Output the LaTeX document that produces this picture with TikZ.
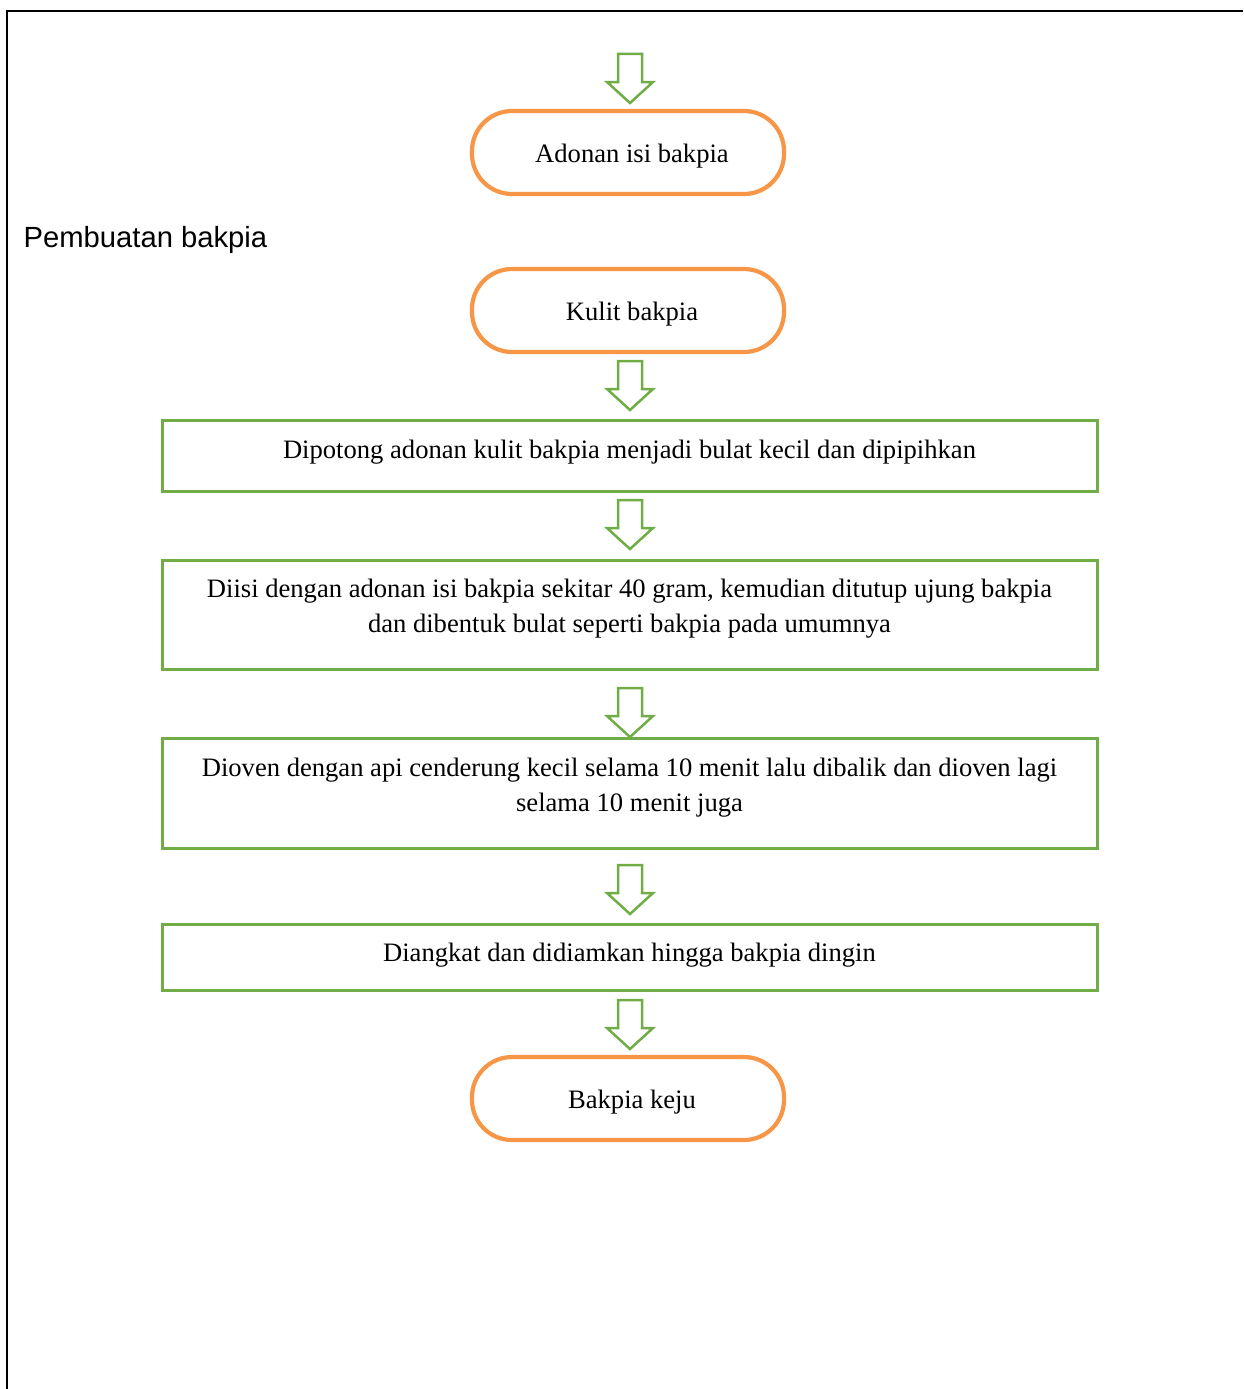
\documentclass[tikz,border=0pt]{standalone}
\usepackage{fontspec}
\setmainfont{Liberation Serif}
\newfontfamily\labelsans{Liberation Sans}
\definecolor{flowora}{HTML}{F79646}
\definecolor{flowgrn}{HTML}{70AD47}
\tikzset{
  stadium/.style={draw=flowora, line width=4.2pt, rounded corners=40pt, minimum width=312pt, minimum height=83pt, fill=white},
  stadtext/.style={font=\fontsize{26.6}{30}\selectfont, inner sep=0pt},
  stepbox/.style={draw=flowgrn, line width=3pt, minimum width=935pt},
  steptext/.style={align=center, font=\fontsize{26.6}{35}\selectfont, inner sep=0pt},
  arrowline/.style={draw=flowgrn, line width=2.5pt, fill=white, line join=miter},
  blockarrow/.pic={\draw[arrowline] (-12,0) -- (12,0) -- (12,28) -- (23,28) -- (0,49) -- (-23,28) -- (-12,28) -- cycle;}
}
\begin{document}
\begin{tikzpicture}[x=1pt,y=-1pt]
\useasboundingbox (0,0) rectangle (1243,1389);
% frame
\draw[line width=2.6pt] (1243,11) -- (7,11) -- (7,1389);
% title
\node[anchor=west, font=\labelsans\fontsize{29.2}{34}\selectfont, inner sep=0pt] (title) at (23.5,240) {Pembuatan bakpia};
% stadiums
\node[stadium] (isi) at (628,152.5) {};
\node[stadium] (kulit) at (628,310.5) {};
\node[stadium] (keju) at (628,1098.5) {};
\node[stadtext] (isit) at (632,156) {Adonan isi bakpia};
\node[stadtext] (kulitt) at (632,314) {Kulit bakpia};
\node[stadtext] (kejut) at (632,1102) {Bakpia keju};
% boxes
\node[stepbox, minimum height=71pt] (b1) at (629.5,455.5) {};
\node[stepbox, minimum height=109pt] (b2) at (629.5,614.5) {};
\node[stepbox, minimum height=110pt] (b3) at (629.5,793) {};
\node[stepbox, minimum height=66pt] (b4) at (629.5,957) {};
\node[steptext] (t1) at (629.5,452) {Dipotong adonan kulit bakpia menjadi bulat kecil dan dipipihkan};
\node[steptext] (t2) at (629.5,608.5) {Diisi dengan adonan isi bakpia sekitar 40 gram, kemudian ditutup ujung bakpia\\ dan dibentuk bulat seperti bakpia pada umumnya};
\node[steptext] (t3) at (629.5,787.5) {Dioven dengan api cenderung kecil selama 10 menit lalu dibalik dan dioven lagi\\ selama 10 menit juga};
\node[steptext] (t4) at (629.5,955) {Diangkat dan didiamkan hingga bakpia dingin};
% arrows
\coordinate (a0) at (630,54);
\coordinate (a1) at (630,361);
\coordinate (a2) at (630,500);
\coordinate (a3) at (630,688);
\coordinate (a4) at (630,865);
\coordinate (a5) at (630,1000);
\foreach \c in {a0,a1,a2,a3,a4,a5} { \pic at (\c) {blockarrow}; }
\end{tikzpicture}
\end{document}
